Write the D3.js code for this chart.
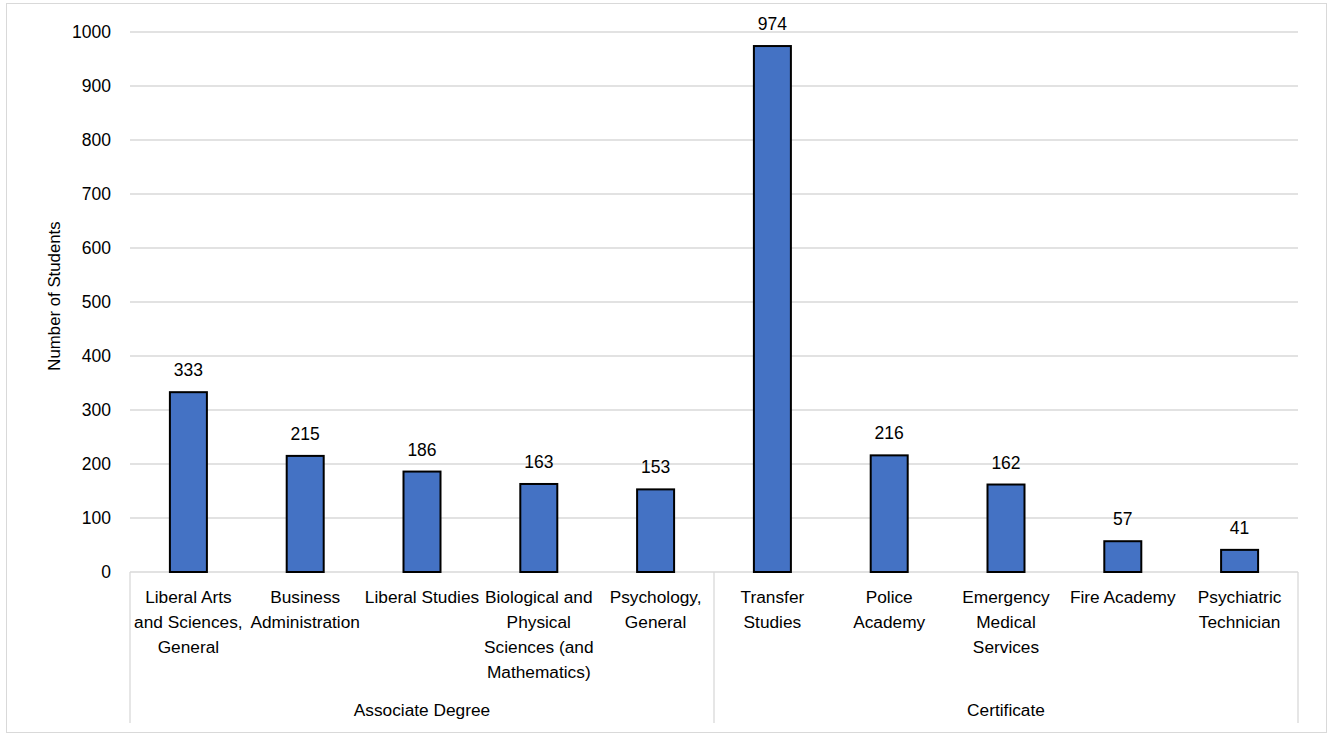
<!DOCTYPE html>
<html>
<head>
<meta charset="utf-8">
<script src="https://cdn.jsdelivr.net/npm/d3@7"></script>
<style>
  body { margin: 0; background: #fff; }
  text { font-family: "Liberation Sans", Arial, sans-serif; fill: #000; }
</style>
</head>
<body>
<svg id="chart" width="1331" height="736"></svg>
<script>
// data
var categories = ["Liberal Arts\nand Sciences,\nGeneral", "Business\nAdministration", "Liberal Studies",
  "Biological and\nPhysical\nSciences (and\nMathematics)", "Psychology,\nGeneral",
  "Transfer\nStudies", "Police\nAcademy", "Emergency\nMedical\nServices", "Fire Academy", "Psychiatric\nTechnician"];
var values = [333, 215, 186, 163, 153, 974, 216, 162, 57, 41];
var groups = ["Associate Degree", "Certificate"];
var groupSizes = [5, 5];
var yTicks = [0, 100, 200, 300, 400, 500, 600, 700, 800, 900, 1000];

var svg = d3.select("#chart");
var margin = {top: 32, left: 130, right: 33, bottom: 164};
var width = 1331 - margin.left - margin.right,
    height = 736 - margin.top - margin.bottom;

// outer frame
svg.append("rect")
  .attr("x", 6.5).attr("y", 3.5).attr("width", 1320).attr("height", 729)
  .attr("fill", "none").attr("stroke", "#d9d9d9");

var g = svg.append("g")
  .attr("transform", "translate(" + margin.left + "," + margin.top + ")");

var x = d3.scaleBand().domain(d3.range(categories.length)).range([0, width]).paddingInner(0).paddingOuter(0);
var y = d3.scaleLinear().domain([0, 1000]).range([height, 0]);

// gridlines
g.selectAll(".grid").data(yTicks).enter().append("line")
  .attr("x1", 0).attr("x2", width)
  .attr("y1", function(d) { return y(d); }).attr("y2", function(d) { return y(d); })
  .attr("stroke", "#d9d9d9").attr("stroke-width", 1.3);

// y axis labels
var yAxis = d3.axisLeft(y).tickValues(yTicks).tickFormat(d3.format("d")).tickSize(0).tickPadding(19);
var ya = g.append("g").call(yAxis);
ya.select(".domain").remove();
ya.selectAll("text").style("font-size", "17.5px").attr("fill", "#000")
  .style("font-family", "Liberation Sans, Arial, sans-serif");

// y title
svg.append("text")
  .attr("transform", "translate(60," + 296 + ") rotate(-90)")
  .attr("text-anchor", "middle")
  .style("font-size", "16.8px")
  .text("Number of Students");

// bars
var barW = 37;
g.selectAll(".bar").data(values).enter().append("rect")
  .attr("class", "bar")
  .attr("x", function(d, i) { return x(i) + x.bandwidth() / 2 - barW / 2; })
  .attr("y", function(d) { return y(d); })
  .attr("width", barW)
  .attr("height", function(d) { return height - y(d); })
  .attr("fill", "#4472c4").attr("stroke", "#000").attr("stroke-width", 2);

// value labels
g.selectAll(".val").data(values).enter().append("text")
  .attr("x", function(d, i) { return x(i) + x.bandwidth() / 2; })
  .attr("y", function(d) { return y(d) - 16; })
  .attr("text-anchor", "middle")
  .style("font-size", "17.5px")
  .text(function(d) { return d; });

// category labels
var catG = g.selectAll(".cat").data(categories).enter().append("text")
  .attr("text-anchor", "middle")
  .style("font-size", "17.3px");
catG.each(function(d, i) {
  var t = d3.select(this);
  d.split("\n").forEach(function(line, j) {
    t.append("tspan")
      .attr("x", x(i) + x.bandwidth() / 2)
      .attr("y", height + 31 + j * 25)
      .text(line);
  });
});

// group separators and labels
var bounds = [0];
groupSizes.forEach(function(n, k) { bounds.push(bounds[k] + n); });
bounds.forEach(function(b) {
  var xx = b < categories.length ? x(b) : width;
  g.append("line")
    .attr("x1", xx).attr("x2", xx)
    .attr("y1", height).attr("y2", height + 151)
    .attr("stroke", "#d9d9d9").attr("stroke-width", 1.3);
});
groups.forEach(function(name, k) {
  var x0 = x(bounds[k]);
  var x1 = bounds[k + 1] < categories.length ? x(bounds[k + 1]) : width;
  g.append("text")
    .attr("x", (x0 + x1) / 2)
    .attr("y", height + 144)
    .attr("text-anchor", "middle")
    .style("font-size", "17.3px")
    .text(name);
});
</script>
</body>
</html>
